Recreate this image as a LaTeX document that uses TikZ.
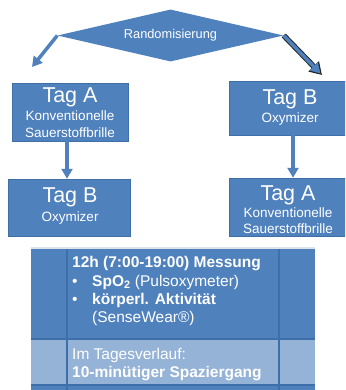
\documentclass[tikz,border=0pt]{standalone}
\usepackage{fontspec}
\setmainfont{Liberation Sans}
\usetikzlibrary{shapes.geometric,arrows.meta}
\definecolor{mainblue}{HTML}{4F81BD}
\definecolor{lightblue}{HTML}{95B3D7}
\definecolor{edgeblue}{HTML}{3F6FA8}
\definecolor{topline}{HTML}{DCE3EC}
\begin{document}
\begin{tikzpicture}[x=1pt,y=-1pt,
  box/.style={fill=mainblue, draw=edgeblue, line width=0.5pt, inner sep=0pt},
  big/.style={text=white, font=\fontsize{21.5}{24}\selectfont, anchor=base, inner sep=0pt},
  small/.style={text=white, font=\fontsize{13.5}{15}\selectfont, anchor=base, inner sep=0pt},
  tab/.style={text=white, font=\fontsize{15.5}{18}\selectfont, anchor=base west, inner sep=0pt},
  arr/.style={draw=mainblue, line width=3.5pt, -{Triangle[width=11pt,length=10pt]}},
  arrdark/.style={draw=black!85, line width=5.5pt, -{Triangle[width=14pt,length=12pt]}}]
\useasboundingbox (0,0) rectangle (345,390);
\clip (0,0) rectangle (345,390);

% decision diamond
\node[diamond, aspect=4.35, fill=mainblue, inner sep=0pt,
      minimum width=226pt, minimum height=52pt,
      text=white, font=\fontsize{12.8}{14}\selectfont] (rand) at (170.5,35.5) {Randomisierung};
\coordinate (lend) at (32,67);
\coordinate (rend) at (322,75);
\coordinate (rendin) at (320.5,73.5);
\draw[arr] (rand.west) -- (lend);
\draw[arrdark] (rand.east) -- (rend);
\draw[arr] (rand.east) -- (rendin);

% boxes
\node[box, minimum width=116pt, minimum height=58pt] (boxA1) at (70,112) {};
\node[big] (tA1) at (70,103) {Tag A};
\node[small] (kA1) at (70,121) {Konventionelle};
\node[small] (sA1) at (70,138) {Sauerstoffbrille};

\node[box, minimum width=122pt, minimum height=54pt] (boxB2) at (290,108) {};
\node[big] (tB2) at (290,105) {Tag B};
\node[small] (oB2) at (290,122.5) {Oxymizer};

\node[box, minimum width=122pt, minimum height=57pt] (boxB1) at (69,207.5) {};
\node[big] (tB1) at (70,202.5) {Tag B};
\node[small] (oB1) at (70,221.5) {Oxymizer};

\node[box, minimum width=118pt, minimum height=58pt] (boxA2) at (288,207) {};
\node[big] (tA2) at (288,200) {Tag A};
\node[small] (kA2) at (288,217) {Konventionelle};
\node[small] (sA2) at (288,233.5) {Sauerstoffbrille};

\draw[arr] ([xshift=-3pt]boxA1.south) -- ([xshift=-2pt]boxB1.north);
\draw[arr] ([xshift=3pt]boxB2.south) -- ([xshift=5pt]boxA2.north);

% table
\draw[topline, line width=1.5pt] (31,248) -- (315,248);
\fill[mainblue] (31,249) rectangle (315,339);
\fill[lightblue] (31,339) rectangle (315,385);
\fill[mainblue] (31,385) rectangle (315,391);
\draw[edgeblue, line width=1.5pt] (67,249) -- (67,391);
\draw[edgeblue, line width=1.5pt] (279,249) -- (279,391);
\draw[edgeblue, line width=1.5pt] (31,339) -- (315,339);
\draw[edgeblue, line width=1.5pt] (31,385) -- (315,385);

\node[tab] (m1) at (72,267) {\textbf{12h (7:00-19:00) Messung}};
\node[tab] (b1) at (72,286) {•};
\node[tab] (m2) at (92,286) {\textbf{SpO\textsubscript{2}} (Pulsoxymeter)};
\node[tab] (b2) at (72,304.5) {•};
\node[tab] (m3) at (92,304.5) {\textbf{körperl. Aktivität}};
\node[tab] (m4) at (92,322.5) {(SenseWear®)};
\node[tab] (r1) at (72,359) {Im Tagesverlauf:};
\node[tab] (r2) at (72,377) {\textbf{10-minütiger Spaziergang}};
\end{tikzpicture}
\end{document}
